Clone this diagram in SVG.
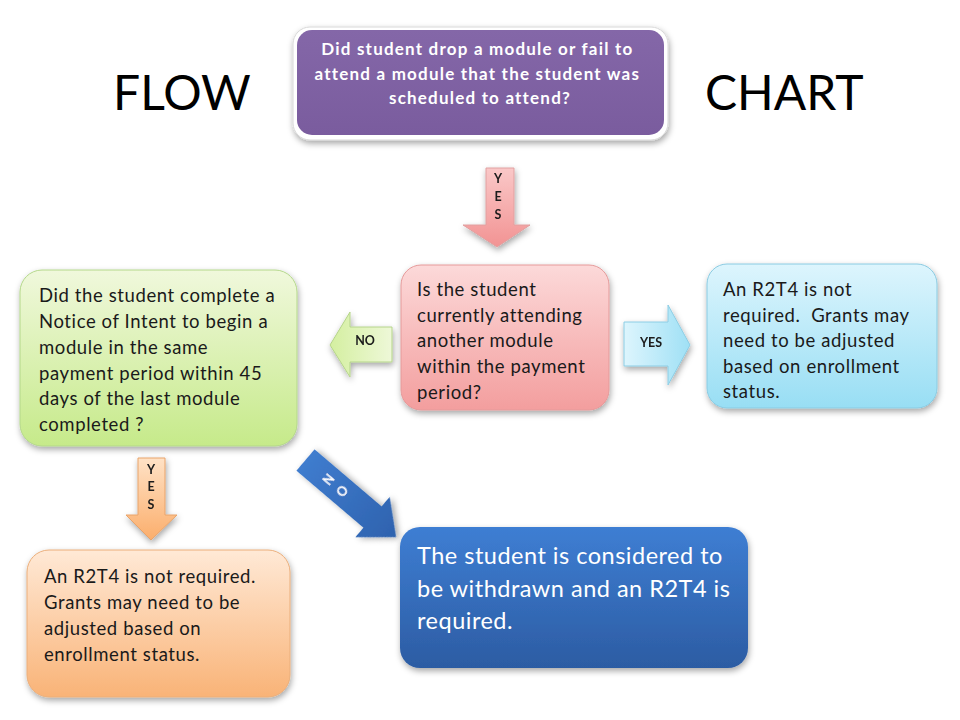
<svg xmlns="http://www.w3.org/2000/svg" width="960" height="720" viewBox="0 0 960 720">
<defs>
<filter id="sh" x="-20%" y="-20%" width="140%" height="150%">
<feDropShadow dx="1" dy="3" stdDeviation="3" flood-color="#000" flood-opacity="0.35"/>
</filter>
<linearGradient id="gPurple" x1="0" y1="0" x2="0" y2="1"><stop offset="0" stop-color="#8467A8"/><stop offset="1" stop-color="#7A5C9E"/></linearGradient>
<linearGradient id="gPink" x1="0" y1="0" x2="0" y2="1"><stop offset="0" stop-color="#FCD9D9"/><stop offset="1" stop-color="#F39E9E"/></linearGradient>
<linearGradient id="gCyan" x1="0" y1="0" x2="0" y2="1"><stop offset="0" stop-color="#DDF5FD"/><stop offset="1" stop-color="#98DEF4"/></linearGradient>
<linearGradient id="gGreen" x1="0" y1="0" x2="0" y2="1"><stop offset="0" stop-color="#F0F8DC"/><stop offset="1" stop-color="#C6EA8A"/></linearGradient>
<linearGradient id="gOrange" x1="0" y1="0" x2="0" y2="1"><stop offset="0" stop-color="#FFE9D6"/><stop offset="1" stop-color="#F9B377"/></linearGradient>
<linearGradient id="gBlue" x1="0" y1="0" x2="0" y2="1"><stop offset="0" stop-color="#3E7ED3"/><stop offset="1" stop-color="#2C5CA3"/></linearGradient>
<linearGradient id="gPinkA" x1="0" y1="0" x2="0" y2="1"><stop offset="0" stop-color="#FAC8C8"/><stop offset="1" stop-color="#F29393"/></linearGradient>
<linearGradient id="gGreenA" x1="0" y1="0" x2="1" y2="0"><stop offset="0" stop-color="#D4EFA0"/><stop offset="1" stop-color="#EEF8D8"/></linearGradient>
<linearGradient id="gCyanA" x1="0" y1="0" x2="1" y2="0"><stop offset="0" stop-color="#DDF5FD"/><stop offset="1" stop-color="#9FE0F5"/></linearGradient>
<linearGradient id="gOrangeA" x1="0" y1="0" x2="0" y2="1"><stop offset="0" stop-color="#FFE2C6"/><stop offset="1" stop-color="#FBAE6C"/></linearGradient>
<linearGradient id="gBlueA" x1="0" y1="0" x2="0" y2="1"><stop offset="0" stop-color="#3F7CCE"/><stop offset="1" stop-color="#2E62AE"/></linearGradient>
</defs>
<style>
text{font-family:Lato,"Liberation Sans",sans-serif;}
.title{font-size:48px;fill:#000;}
.body{font-size:18.5px;letter-spacing:0.6px;fill:#1a1a1a;}
.lbl{font-size:12.5px;font-weight:bold;fill:#1a1a1a;text-anchor:middle;}
.white{fill:#fff;}
.box{filter:url(#sh);}
</style>
<rect width="960" height="720" fill="#fff"/>

<text class="title" x="113" y="110">FLOW</text>
<text class="title" x="705" y="110">CHART</text>

<g id="connectors">
<g id="arrow-yes-top" filter="url(#sh)">
<path d="M486,168 H514 V225 H530 L497,247 L463,225 H486 Z" fill="url(#gPinkA)" stroke="#E0A0A0" stroke-width="1"/>
<text class="lbl" x="498" y="183">Y</text>
<text class="lbl" x="498" y="201">E</text>
<text class="lbl" x="498" y="219">S</text>
</g>
<g id="arrow-no-left" filter="url(#sh)">
<path d="M392,327 V362 H350 V377 L330,345 L350,312 V327 Z" fill="url(#gGreenA)" stroke="#B5D48A" stroke-width="1"/>
<text class="lbl" x="365" y="345">NO</text>
</g>
<g id="arrow-yes-right" filter="url(#sh)">
<path d="M624,322 H668 V305 L690,345 L668,385 V366 H624 Z" fill="url(#gCyanA)" stroke="#8CCDE4" stroke-width="1"/>
<text class="lbl" x="651" y="347">YES</text>
</g>
<g id="arrow-yes-left" filter="url(#sh)">
<path d="M138,458 H165 V515 H177 L151,540 L126,515 H138 Z" fill="url(#gOrangeA)" stroke="#E8A36A" stroke-width="1"/>
<text class="lbl" x="151" y="474">Y</text>
<text class="lbl" x="151" y="491">E</text>
<text class="lbl" x="151" y="509">S</text>
</g>
<g id="arrow-no-diag" filter="url(#sh)" transform="translate(305.5,460) rotate(-49.6)">
<path d="M-14,0 H14 V88 H26.5 L0,119 L-26.5,88 H-14 Z" fill="url(#gBlueA)"/>
<text class="lbl white" x="0" y="30" font-size="14" dominant-baseline="central">N</text>
<text class="lbl white" x="0" y="48" font-size="14" dominant-baseline="central">O</text>
</g>
</g>

<g id="node-start">
<rect x="293" y="27" width="375" height="113" rx="17" fill="#fff" stroke="#d8d8d8" stroke-width="1" class="box"/>
<rect x="297" y="30" width="367" height="105" rx="15" fill="url(#gPurple)"/>
<text class="white" font-size="17" font-weight="bold" letter-spacing="1.2" text-anchor="middle">
<tspan x="480" y="55">Did student drop a module or fail to</tspan>
<tspan x="480" y="80">attend a module that the student was</tspan>
<tspan x="480" y="104">scheduled to attend?</tspan>
</text>
</g>

<g id="node-attending">
<rect x="401" y="265" width="208" height="145" rx="20" fill="url(#gPink)" stroke="#E59A9A" stroke-width="1" class="box"/>
<text class="body">
<tspan x="417" y="296">Is the student</tspan>
<tspan x="417" y="322">currently attending</tspan>
<tspan x="417" y="347">another module</tspan>
<tspan x="417" y="373">within the payment</tspan>
<tspan x="417" y="399">period?</tspan>
</text>
</g>

<g id="node-not-required-right">
<rect x="707" y="264" width="230" height="144" rx="20" fill="url(#gCyan)" stroke="#8ACBE2" stroke-width="1" class="box"/>
<text class="body">
<tspan x="723" y="296">An R2T4 is not</tspan>
<tspan x="723" y="322">required.&#160; Grants may</tspan>
<tspan x="723" y="347">need to be adjusted</tspan>
<tspan x="723" y="373">based on enrollment</tspan>
<tspan x="723" y="398">status.</tspan>
</text>
</g>

<g id="node-notice">
<rect x="20" y="270" width="277" height="176" rx="22" fill="url(#gGreen)" stroke="#B4D88A" stroke-width="1" class="box"/>
<text class="body">
<tspan x="39" y="302">Did the student complete a</tspan>
<tspan x="39" y="328">Notice of Intent to begin a</tspan>
<tspan x="39" y="354">module in the same</tspan>
<tspan x="39" y="380">payment period within 45</tspan>
<tspan x="39" y="405">days of the last module</tspan>
<tspan x="39" y="431">completed ?</tspan>
</text>
</g>

<g id="node-not-required-left">
<rect x="27" y="550" width="263" height="147" rx="22" fill="url(#gOrange)" stroke="#EBAE7A" stroke-width="1" class="box"/>
<text class="body">
<tspan x="44" y="583">An R2T4 is not required.</tspan>
<tspan x="44" y="609">Grants may need to be</tspan>
<tspan x="44" y="635">adjusted based on</tspan>
<tspan x="44" y="661">enrollment status.</tspan>
</text>
</g>

<g id="node-withdrawn">
<rect x="400" y="527" width="348" height="141" rx="20" fill="url(#gBlue)" class="box"/>
<text class="white" font-size="23.5" letter-spacing="0.5">
<tspan x="417" y="564">The student is considered to</tspan>
<tspan x="417" y="597">be withdrawn and an R2T4 is</tspan>
<tspan x="417" y="629">required.</tspan>
</text>
</g>
</svg>
